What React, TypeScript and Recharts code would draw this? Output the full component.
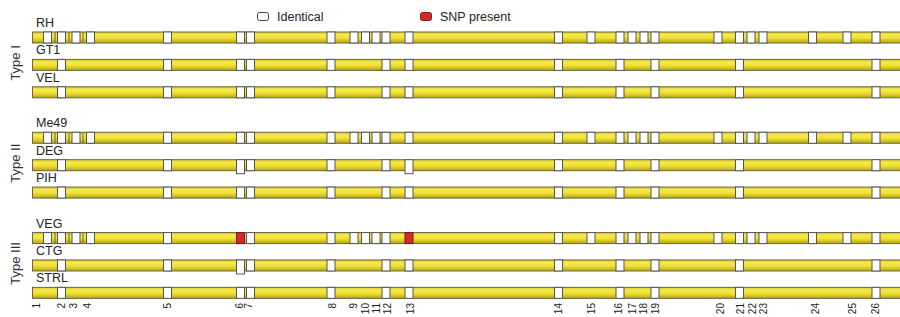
import React from 'react';
import { ScatterChart, Scatter, XAxis, YAxis, Legend } from 'recharts';

// ---------- data ----------
const strains = ['RH', 'GT1', 'VEL', 'Me49', 'DEG', 'PIH', 'VEG', 'CTG', 'STRL'];
const strainGroup = [0, 0, 0, 1, 1, 1, 2, 2, 2];
const groupNames = ['Type I', 'Type II', 'Type III'];
const groupLabelStrain = [1, 4, 7];

const markerNames = ['1', '2', '3', '4', '5', '6', '7', '8', '9', '10', '11', '12', '13', '14', '15', '16', '17', '18', '19', '20', '21', '22', '23', '24', '25', '26'];
const markerPositions = [47.5, 61.5, 76, 90.5, 167.5, 240.5, 250.5, 331, 354, 365.5, 376, 386, 409, 558.5, 591, 620, 632, 644, 655, 718, 739.5, 751, 763, 812.5, 847, 876];
const markerLabelPositions = [36, 61, 73, 87, 167, 239, 248, 332, 353, 365, 376, 387, 410, 558, 591, 618, 632, 643, 655, 720, 740, 752, 763, 815, 852, 875];

const allMarkers = [1, 2, 3, 4, 5, 6, 7, 8, 9, 10, 11, 12, 13, 14, 15, 16, 17, 18, 19, 20, 21, 22, 23, 24, 25, 26];
const sparseMarkers = [2, 5, 6, 7, 8, 12, 13, 14, 16, 19, 21, 26];
const vegMarkers = [1, 2, 3, 4, 5, 7, 8, 9, 10, 11, 12, 14, 15, 16, 17, 18, 19, 20, 21, 22, 23, 24, 25, 26];
const identicalMarkers = [allMarkers, sparseMarkers, sparseMarkers, allMarkers, sparseMarkers, sparseMarkers, vegMarkers, sparseMarkers, sparseMarkers];
const shiftedMarkers = [[], [], [], [], [6, 13], [], [], [6], []];
const snpMarkers = [[], [], [], [], [], [], [6, 13], [], []];

const chromosomeStart = 32;
const dividerPositions = [55, 69, 83];
const dividerStrains = [0, 3, 6];

const legendItems = [
  { label: 'Identical', fill: '#ffffff', stroke: '#444444' },
  { label: 'SNP present', fill: '#d42a2a', stroke: '#7a1c1c' },
];

// ---------- layout ----------
const W = 900;
const H = 317;
const ROW_PX = 27.4;
const FIRST_ROW_PX = 37.5;
const PLOT_H = 301;
const GROUP_GAP = 0.66;
const BAR_H = 11;
const BOX_W = 8;
const FONT = '"Liberation Sans", Arial, Helvetica, sans-serif';

const rowY = (i: number) => i + strainGroup[i] * GROUP_GAP;
const yDomain = [-FIRST_ROW_PX / ROW_PX, (PLOT_H - FIRST_ROW_PX) / ROW_PX];

const barData = strains.map((s, i) => ({ pos: chromosomeStart, y: rowY(i), name: s }));
const whiteData = identicalMarkers.flatMap((list, i) =>
  list.filter((m) => !shiftedMarkers[i].includes(m)).map((m) => ({ pos: markerPositions[m - 1], y: rowY(i) }))
);
const shiftedData = shiftedMarkers.flatMap((list, i) => list.map((m) => ({ pos: markerPositions[m - 1], y: rowY(i) })));
const snpData = snpMarkers.flatMap((list, i) => list.map((m) => ({ pos: markerPositions[m - 1], y: rowY(i) })));
const dividerData = dividerStrains.flatMap((i) => dividerPositions.map((p) => ({ pos: p, y: rowY(i) })));
const groupTicks = groupLabelStrain.map((i) => rowY(i));

const BarShape = (props: any) => {
  const { cx, cy } = props;
  return (
    <rect x={cx + 0.5} y={cy - BAR_H / 2} width={W - cx + 20} height={BAR_H} fill="url(#chromGrad)" stroke="#6a6645" strokeWidth={1} />
  );
};
const LabelShape = (props: any) => {
  const { cx, cy, payload } = props;
  return (
    <text x={cx + 4} y={cy - 10.5} fontSize={12.5} fontFamily={FONT} fill="#222">
      {payload.name}
    </text>
  );
};
const DividerShape = (props: any) => {
  const { cx, cy } = props;
  return <line x1={cx} x2={cx} y1={cy - BAR_H / 2} y2={cy + BAR_H / 2} stroke="#6a6645" strokeWidth={1} />;
};
const WhiteShape = (props: any) => {
  const { cx, cy } = props;
  return <rect x={cx - BOX_W / 2} y={cy - BAR_H / 2} width={BOX_W} height={BAR_H} fill="#fff" stroke="#555" strokeWidth={1} />;
};
const ShiftedShape = (props: any) => {
  const { cx, cy } = props;
  return <rect x={cx - BOX_W / 2} y={cy - BAR_H / 2} width={BOX_W} height={BAR_H + 3} fill="#fff" stroke="#555" strokeWidth={1} />;
};
const SnpShape = (props: any) => {
  const { cx, cy } = props;
  return <rect x={cx - BOX_W / 2} y={cy - BAR_H / 2} width={BOX_W} height={BAR_H} fill="#d42a2a" stroke="#6b1f1f" strokeWidth={1} />;
};

const XTick = (props: any) => {
  const { x, y, payload } = props;
  const idx = markerLabelPositions.indexOf(payload.value);
  return (
    <text transform={`rotate(-90 ${x} ${y})`} x={x} y={y} dy="0.35em" textAnchor="end" fontSize={10} fontFamily={FONT} fill="#222">
      {markerNames[idx]}
    </text>
  );
};
const YTick = (props: any) => {
  const { x, y, payload } = props;
  const idx = groupTicks.indexOf(payload.value);
  const cx = x - 11;
  const cy = y - 2;
  return (
    <text transform={`rotate(-90 ${cx} ${cy})`} x={cx} y={cy} dy="0.35em" textAnchor="middle" fontSize={13} fontFamily={FONT} fill="#333">
      {groupNames[idx]}
    </text>
  );
};

const LegendContent = () => (
  <svg width={W} height={30} style={{ display: 'block' }}>
    {legendItems.map((it, k) => {
      const bx = k === 0 ? 257.5 : 420.5;
      return (
        <g key={it.label}>
          <rect x={bx} y={12.5} width={11} height={8} rx={2} fill={it.fill} stroke={it.stroke} strokeWidth={1} />
          <text x={bx + 19.5} y={21} fontSize={12.5} fontFamily={FONT} fill="#222">
            {it.label}
          </text>
        </g>
      );
    })}
  </svg>
);

export default function App() {
  return (
    <div style={{ position: 'absolute', left: 0, top: 0, width: W, height: H, background: '#fff' }}>
      <ScatterChart width={W} height={H} margin={{ top: 0, right: 0, bottom: 0, left: 0 }}>
        <defs>
          <linearGradient id="chromGrad" x1="0" y1="0" x2="0" y2="1">
            <stop offset="0%" stopColor="#d8c82a" />
            <stop offset="25%" stopColor="#f6ea4e" />
            <stop offset="55%" stopColor="#efe035" />
            <stop offset="100%" stopColor="#b8a514" />
          </linearGradient>
        </defs>
        <XAxis
          type="number"
          dataKey="pos"
          domain={[28, W]}
          ticks={markerLabelPositions}
          interval={0}
          tick={<XTick />}
          axisLine={false}
          tickLine={false}
          tickSize={0}
          tickMargin={2}
          height={16}
          allowDataOverflow
        />
        <YAxis
          type="number"
          dataKey="y"
          domain={yDomain}
          reversed
          ticks={groupTicks}
          interval={0}
          tick={<YTick />}
          axisLine={false}
          tickLine={false}
          tickSize={0}
          tickMargin={2}
          width={28}
          allowDataOverflow
        />
        <Legend layout="horizontal" verticalAlign="middle" align="center" wrapperStyle={{ top: 0, left: 0, width: W, height: 30 }} content={<LegendContent />} />
        <Scatter name="chromosome" data={barData} shape={<BarShape />} isAnimationActive={false} legendType="none" />
        <Scatter name="divider" data={dividerData} shape={<DividerShape />} isAnimationActive={false} legendType="none" />
        <Scatter name="Identical" data={whiteData} shape={<WhiteShape />} isAnimationActive={false} />
        <Scatter name="Identical (shifted)" data={shiftedData} shape={<ShiftedShape />} isAnimationActive={false} legendType="none" />
        <Scatter name="SNP present" data={snpData} shape={<SnpShape />} isAnimationActive={false} />
        <Scatter name="labels" data={barData} shape={<LabelShape />} isAnimationActive={false} legendType="none" />
      </ScatterChart>
    </div>
  );
}
